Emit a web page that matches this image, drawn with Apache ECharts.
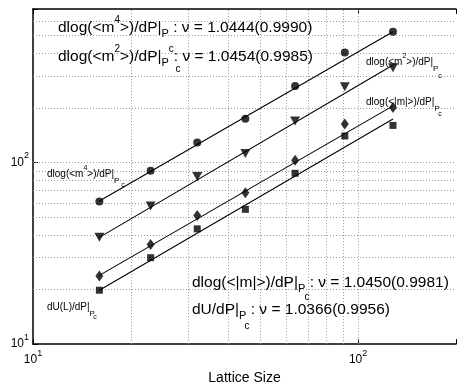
<!DOCTYPE html>
<html><head><meta charset="utf-8">
<script src="https://cdn.jsdelivr.net/npm/echarts@6/dist/echarts.min.js"></script>
<style>html,body{margin:0;padding:0;background:#fff}#c{width:459px;height:390px}</style>
</head><body><div id="c"></div>
<script>
// ---- data ----
const latticeSizes = [16, 23, 32, 45, 64, 91, 128];
const m4Values = [61, 90, 129, 174, 264, 403, 524];
const m2Values = [38.7, 57.6, 83.7, 112, 169, 261, 332];
const absMValues = [23.7, 35.3, 51.1, 68.2, 103, 163, 201];
const dUValues = [19.8, 29.9, 43.1, 55.2, 87.2, 140, 160];
const fitSizes = [16, 128];
const m4Fit = [61.3, 524];
const m2Fit = [38.7, 344];
const absMFit = [23.9, 205];
const dUFit = [19.8, 173.6];
const xGridValues = [20, 30, 40, 50, 60, 70, 80, 90, 100];
const yGridValues = [20, 30, 40, 50, 60, 70, 80, 90, 100, 200, 300, 400, 500, 600];

const FONT = 'Liberation Sans, Arial, Helvetica, sans-serif';
const chart = echarts.init(document.getElementById('c'), null, {renderer: 'canvas'});

function pairs(xs, ys) { return xs.map((x, i) => [x, ys[i]]); }

function powLabel(v) {
  const e = Math.round(Math.log10(v));
  if (Math.abs(v - Math.pow(10, e)) < 1e-6 * v) return '{b|10}{s|' + e + '}';
  return '';
}
const tickRich = {
  b: {fontSize: 12, lineHeight: 22, fontFamily: FONT, color: '#000'},
  s: {fontSize: 9, lineHeight: 10, verticalAlign: 'top', fontFamily: FONT, color: '#000'}
};
const axisLineStyle = {color: '#000', width: 1.5};

function bigRich() {
  return {
    sup: {fontSize: 10, lineHeight: 15, verticalAlign: 'top', fontFamily: FONT, fill: '#000'},
    sub: {fontSize: 11, lineHeight: 12, verticalAlign: 'bottom', fontFamily: FONT, fill: '#000'},
    supc: {fontSize: 10, lineHeight: 20, verticalAlign: 'top', fontFamily: FONT, fill: '#000'}
  };
}
function smallRich() {
  return {
    sup: {fontSize: 7, lineHeight: 10, verticalAlign: 'top', fontFamily: FONT, fill: '#000'},
    sub: {fontSize: 8, lineHeight: 9, verticalAlign: 'bottom', fontFamily: FONT, fill: '#000'}
  };
}
function bigText(x, baseline, text) {
  return {type: 'text', x: x, y: baseline - 17.4, z: 100,
    style: {text: text, fontSize: 15.5, lineHeight: 24, fontFamily: FONT, fill: '#000', rich: bigRich()}};
}
function smallText(x, baseline, text) {
  return {type: 'text', x: x, y: baseline - 13.5, z: 100,
    style: {text: text, fontSize: 10, lineHeight: 20, fontFamily: FONT, fill: '#000', rich: smallRich()}};
}
function cText(x, cy, fs) {
  return {type: 'text', x: x, y: cy - 1, z: 100,
    style: {text: 'c', fontSize: fs, fontFamily: FONT, fill: '#000', align: 'center', verticalAlign: 'middle'}};
}

const option = {
  animation: false,
  backgroundColor: '#fff',
  grid: {left: 33, top: 9, bottom: 39, right: -7, containLabel: false},
  xAxis: [{
    type: 'log', logBase: 10, min: 10, max: 200, position: 'bottom',
    axisLine: {show: true, onZero: false, lineStyle: axisLineStyle},
    axisTick: {show: true, inside: true, length: 5, lineStyle: {color: '#000', width: 1}},
    axisLabel: {formatter: powLabel, rich: tickRich, margin: 5},
    splitLine: {show: false}, minorTick: {show: false}, minorSplitLine: {show: false},
    name: 'Lattice Size', nameLocation: 'middle', nameGap: 25,
    nameTextStyle: {fontSize: 14, color: '#000', fontFamily: FONT}
  }, {
    type: 'log', logBase: 10, min: 10, max: 200, position: 'top',
    axisLine: {show: true, onZero: false, lineStyle: axisLineStyle},
    axisTick: {show: true, inside: true, length: 5, lineStyle: {color: '#000', width: 1}},
    axisLabel: {show: false}, splitLine: {show: false}
  }],
  yAxis: [{
    type: 'log', logBase: 10, min: 10, max: 700,
    axisLine: {show: true, onZero: false, lineStyle: axisLineStyle},
    axisTick: {show: true, inside: true, length: 5, lineStyle: {color: '#000', width: 1}},
    axisLabel: {formatter: powLabel, rich: tickRich, margin: 4},
    splitLine: {show: false}
  }],
  series: [
    {
      type: 'line', data: pairs(fitSizes, m4Fit), symbol: 'none', z: 3,
      lineStyle: {color: '#000', width: 1.1},
      markLine: {
        silent: true, symbol: 'none', animation: false, z: 1,
        label: {show: false},
        lineStyle: {color: '#9a9a9a', type: [1, 2], width: 1},
        emphasis: {disabled: true},
        data: xGridValues.map(v => ({xAxis: v})).concat(yGridValues.map(v => ({yAxis: v})))
      }
    },
    {type: 'line', data: pairs(fitSizes, m2Fit), symbol: 'none', z: 3, lineStyle: {color: '#000', width: 1.1}},
    {type: 'line', data: pairs(fitSizes, absMFit), symbol: 'none', z: 3, lineStyle: {color: '#000', width: 1.1}},
    {type: 'line', data: pairs(fitSizes, dUFit), symbol: 'none', z: 3, lineStyle: {color: '#000', width: 1.1}},
    {type: 'scatter', data: pairs(latticeSizes, m4Values), symbol: 'circle', symbolSize: 8, z: 4, itemStyle: {color: '#000'}},
    {type: 'scatter', data: pairs(latticeSizes, m2Values), symbol: 'triangle', symbolRotate: 180, symbolSize: [10, 9], z: 4, itemStyle: {color: '#000'}},
    {type: 'scatter', data: pairs(latticeSizes, absMValues), symbol: 'diamond', symbolSize: [8, 11], z: 4, itemStyle: {color: '#000'}},
    {type: 'scatter', data: pairs(latticeSizes, dUValues), symbol: 'rect', symbolSize: 7, z: 4, itemStyle: {color: '#000'}}
  ],
  graphic: [
    bigText(58, 33, 'dlog(<m{sup|4}>)/dP|{sub|P} : ν = 1.0444(0.9990)'),
    bigText(58, 62, 'dlog(<m{sup|2}>)/dP|{sub|P}{supc|c}: ν = 1.0454(0.9985)'),
    cText(178, 70, 10),
    bigText(192, 288, 'dlog(<|m|>)/dP|{sub|P} : ν = 1.0450(0.9981)'),
    cText(307, 298, 10),
    bigText(192, 315, 'dU/dP|{sub|P} : ν = 1.0366(0.9956)'),
    cText(247, 327, 10),
    smallText(47, 178, 'dlog(<m{sup|4}>)/dP|{sub|P}'),
    cText(123, 186, 7),
    smallText(366, 66, 'dlog(<m{sup|2}>)/dP|{sub|P}'),
    cText(440, 77, 7),
    smallText(366, 106, 'dlog(<|m|>)/dP|{sub|P}'),
    cText(440, 115, 7),
    smallText(47, 311, 'dU(L)/dP|{sub|P}'),
    cText(95, 318, 7)
  ]
};
chart.setOption(option);
</script>
</body></html>
